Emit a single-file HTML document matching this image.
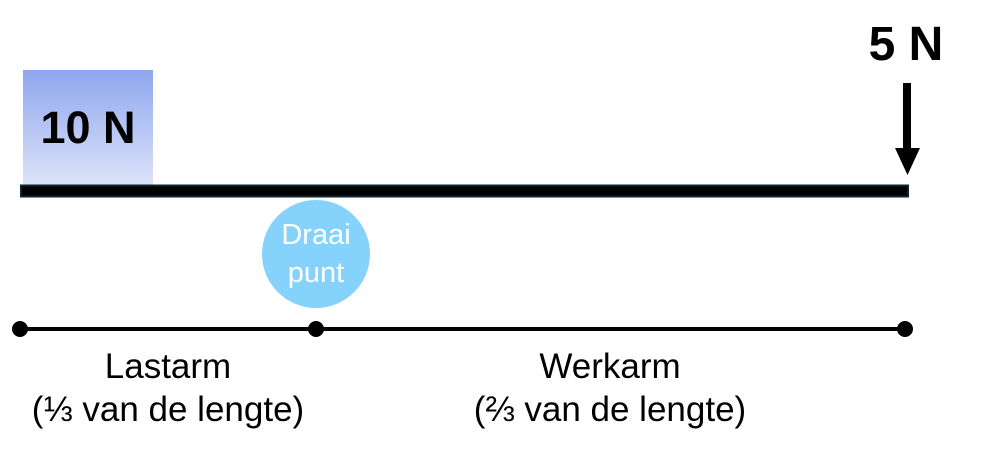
<!DOCTYPE html>
<html><head><style>
body{margin:0;width:996px;height:458px;background:#fff;overflow:hidden}
</style></head><body>
<svg width="996" height="458" xmlns="http://www.w3.org/2000/svg" font-family="Liberation Sans, sans-serif">
<defs><linearGradient id="g" x1="0" y1="0" x2="0" y2="1">
<stop offset="0" stop-color="#8ea6ee"/><stop offset="1" stop-color="#dde3f9"/></linearGradient></defs>
<rect x="23" y="70" width="130" height="115" fill="url(#g)"/>
<text x="88" y="143" font-size="45" font-weight="bold" text-anchor="middle">10 N</text>
<rect x="21" y="185.5" width="887" height="11" fill="#000" stroke="#0b2530" stroke-width="2"/>
<circle cx="316" cy="254" r="54" fill="#85d2fd"/>
<text x="316" y="244" font-size="29" fill="#fff" text-anchor="middle">Draai</text>
<text x="316" y="282" font-size="29" fill="#fff" text-anchor="middle">punt</text>
<text x="906" y="60" font-size="48" font-weight="bold" text-anchor="middle">5 N</text>
<rect x="903" y="83" width="8" height="67" fill="#000"/>
<polygon points="895,148 920,148 907.5,175" fill="#000"/>
<line x1="20" y1="329" x2="905" y2="329" stroke="#000" stroke-width="4"/>
<circle cx="20" cy="329" r="8"/><circle cx="316" cy="329" r="8"/><circle cx="905" cy="329" r="8"/>
<text x="168" y="378" font-size="35" text-anchor="middle">Lastarm</text>
<text x="168" y="421" font-size="35" text-anchor="middle">(⅓ van de lengte)</text>
<text x="610" y="378" font-size="35" text-anchor="middle">Werkarm</text>
<text x="610" y="421" font-size="35" text-anchor="middle">(⅔ van de lengte)</text>
</svg>
</body></html>
